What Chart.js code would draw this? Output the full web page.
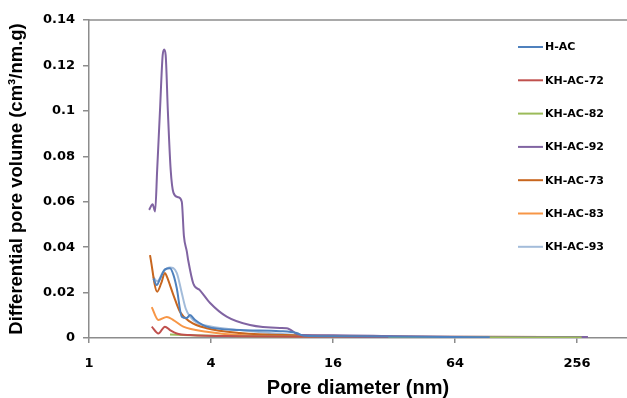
<!DOCTYPE html>
<html>
<head>
<meta charset="utf-8">
<script src="https://cdn.jsdelivr.net/npm/chart.js@4"></script>
<style>
  body { margin: 0; background: #fff; }
  canvas { display: block; }
</style>
</head>
<body>
<canvas id="poreCanvas" width="627" height="398"></canvas>
<script>
// ------DATA--------  [pore diameter (nm), differential pore volume]
const seriesNames = ["H-AC", "KH-AC-72", "KH-AC-82", "KH-AC-92", "KH-AC-73", "KH-AC-83", "KH-AC-93"];
const seriesColors = ["#4F81BD", "#C0504D", "#9BBB59", "#8064A2", "#C8661E", "#F79646", "#A3BCDA"];

const hAC = [[2.08, 0.0262], [2.16, 0.0233], [2.24, 0.026], [2.37, 0.0302], [2.51, 0.0307], [2.61, 0.0278], [2.71, 0.022],
    [2.87, 0.0094], [3.03, 0.0088], [3.15, 0.0101], [3.34, 0.0079], [3.81, 0.005], [5.56, 0.0035], [8.76, 0.003],
    [10.6, 0.0022], [11.5, 0.001], [16, 0.0008], [64, 0.0004], [95, 0.0003]];
const kh72 = [[2.04, 0.005], [2.2, 0.002], [2.37, 0.005], [2.51, 0.0035], [2.71, 0.002], [3.15, 0.0013], [5.56, 0.0008],
    [16, 0.0005], [30, 0.0004]];
const kh82 = [[2.51, 0.0015], [3.15, 0.0012], [5.56, 0.0008], [16, 0.0005], [64, 0.0003], [270, 0.0002]];
const kh92 = [[1.98, 0.0564], [2.06, 0.0589], [2.12, 0.0557], [2.17, 0.074], [2.24, 0.1], [2.31, 0.1245], [2.35, 0.127],
    [2.39, 0.1245], [2.45, 0.1], [2.53, 0.074], [2.61, 0.064], [2.75, 0.062], [2.87, 0.06], [2.94, 0.045], [3.04, 0.038],
    [3.09, 0.034], [3.27, 0.024], [3.53, 0.021], [3.96, 0.0154], [4.78, 0.0094], [6.23, 0.0057], [8.76, 0.0044],
    [9.45, 0.0043], [11, 0.0013], [16, 0.0012], [34, 0.0008], [64, 0.0006], [290, 0.0004]];
const kh73 = [[2.0, 0.0365], [2.17, 0.0204], [2.27, 0.024], [2.37, 0.0286], [2.42, 0.0271], [2.61, 0.0189],
    [2.81, 0.0116], [3.15, 0.0072], [3.81, 0.0043], [5.56, 0.0022], [11, 0.0012], [34, 0.0006], [64, 0.0004]];
const kh83 = [[2.04, 0.0136], [2.2, 0.0079], [2.42, 0.0093], [2.61, 0.0079], [2.92, 0.005], [3.81, 0.0028],
    [5.56, 0.0013], [11, 0.0008], [64, 0.0005], [260, 0.0004]];
const kh93 = [[2.07, 0.027], [2.17, 0.025], [2.32, 0.029], [2.51, 0.031], [2.71, 0.0287], [2.87, 0.0198],
    [3.0, 0.013], [3.15, 0.0095], [3.4, 0.0067], [3.65, 0.0057], [5.56, 0.0035], [11, 0.0012], [16, 0.0008], [64, 0.0004]];

const seriesData = [hAC, kh72, kh82, kh92, kh73, kh83, kh93];
const xTicks = [1, 4, 16, 64, 256];
const yTicks = [0, 0.02, 0.04, 0.06, 0.08, 0.1, 0.12, 0.14];

// legend drawn inside the plot, top right
const insideLegend = {
    id: "insideLegend",
    afterDraw(chart) {
        const ctx = chart.ctx;
        ctx.save();
        ctx.font = "bold 11px 'DejaVu Sans'";
        ctx.textBaseline = "middle";
        ctx.fillStyle = "#000";
        chart.data.datasets.forEach((ds, i) => {
            const y = 47 + i * 33.3;
            ctx.strokeStyle = ds.borderColor;
            ctx.lineWidth = 2;
            ctx.beginPath();
            ctx.moveTo(518, y);
            ctx.lineTo(543, y);
            ctx.stroke();
            ctx.fillText(ds.label, 545, y + 0.5);
        });
        // top frame line
        const a = chart.chartArea;
        ctx.strokeStyle = "#8c8c8c";
        ctx.lineWidth = 1.5;
        ctx.beginPath();
        ctx.moveTo(a.left, a.top);
        ctx.lineTo(a.right, a.top);
        ctx.stroke();
        ctx.restore();
    }
};

const poreChart = new Chart(document.getElementById("poreCanvas"), {
    type: "line",
    data: {
        datasets: seriesNames.map((name, i) => ({
            label: name,
            data: seriesData[i].map(p => ({ x: p[0], y: p[1] })),
            borderColor: seriesColors[i],
            backgroundColor: seriesColors[i],
            borderWidth: 2,
            pointRadius: 0,
            cubicInterpolationMode: "monotone",
            fill: false
        }))
    },
    options: {
        responsive: false,
        animation: false,
        layout: { padding: { top: 20, right: 0, bottom: 0, left: 0 } },
        plugins: { legend: { display: false }, tooltip: { enabled: false } },
        scales: {
            x: {
                type: "logarithmic",
                min: 1,
                max: 452,
                afterBuildTicks: axis => { axis.ticks = xTicks.map(v => ({ value: v })); },
                afterFit: axis => { axis.height = 60; },
                ticks: {
                    callback: v => String(v),
                    color: "#000",
                    font: { family: "DejaVu Sans", size: 13, weight: "bold" },
                    padding: 13,
                    maxRotation: 0,
                    autoSkip: false
                },
                grid: { drawOnChartArea: false, drawTicks: true, tickLength: 5, color: "#8c8c8c", lineWidth: 1.5 },
                border: { display: true, color: "#8c8c8c", width: 1.5 },
                title: {
                    display: true,
                    text: "Pore diameter (nm)",
                    color: "#000",
                    font: { family: "Liberation Sans", size: 20, weight: "bold", lineHeight: 1 },
                    padding: { top: 0, bottom: 0 }
                }
            },
            y: {
                min: 0,
                max: 0.14,
                afterBuildTicks: axis => { axis.ticks = yTicks.map(v => ({ value: v })); },
                afterFit: axis => { axis.width = 89; },
                ticks: {
                    callback: v => String(Number(v.toFixed(2))),
                    color: "#000",
                    font: { family: "DejaVu Sans", size: 13, weight: "bold" },
                    padding: 8
                },
                grid: { drawOnChartArea: false, drawTicks: true, tickLength: 6, color: "#8c8c8c", lineWidth: 1.5 },
                border: { display: true, color: "#8c8c8c", width: 1.5 },
                title: {
                    display: true,
                    text: "Differential pore volume (cm³/nm.g)",
                    color: "#000",
                    font: { family: "Liberation Sans", size: 18.5, weight: "bold" },
                    padding: { top: 6, bottom: 0 }
                }
            }
        }
    },
    plugins: [insideLegend]
});
</script>
</body>
</html>
